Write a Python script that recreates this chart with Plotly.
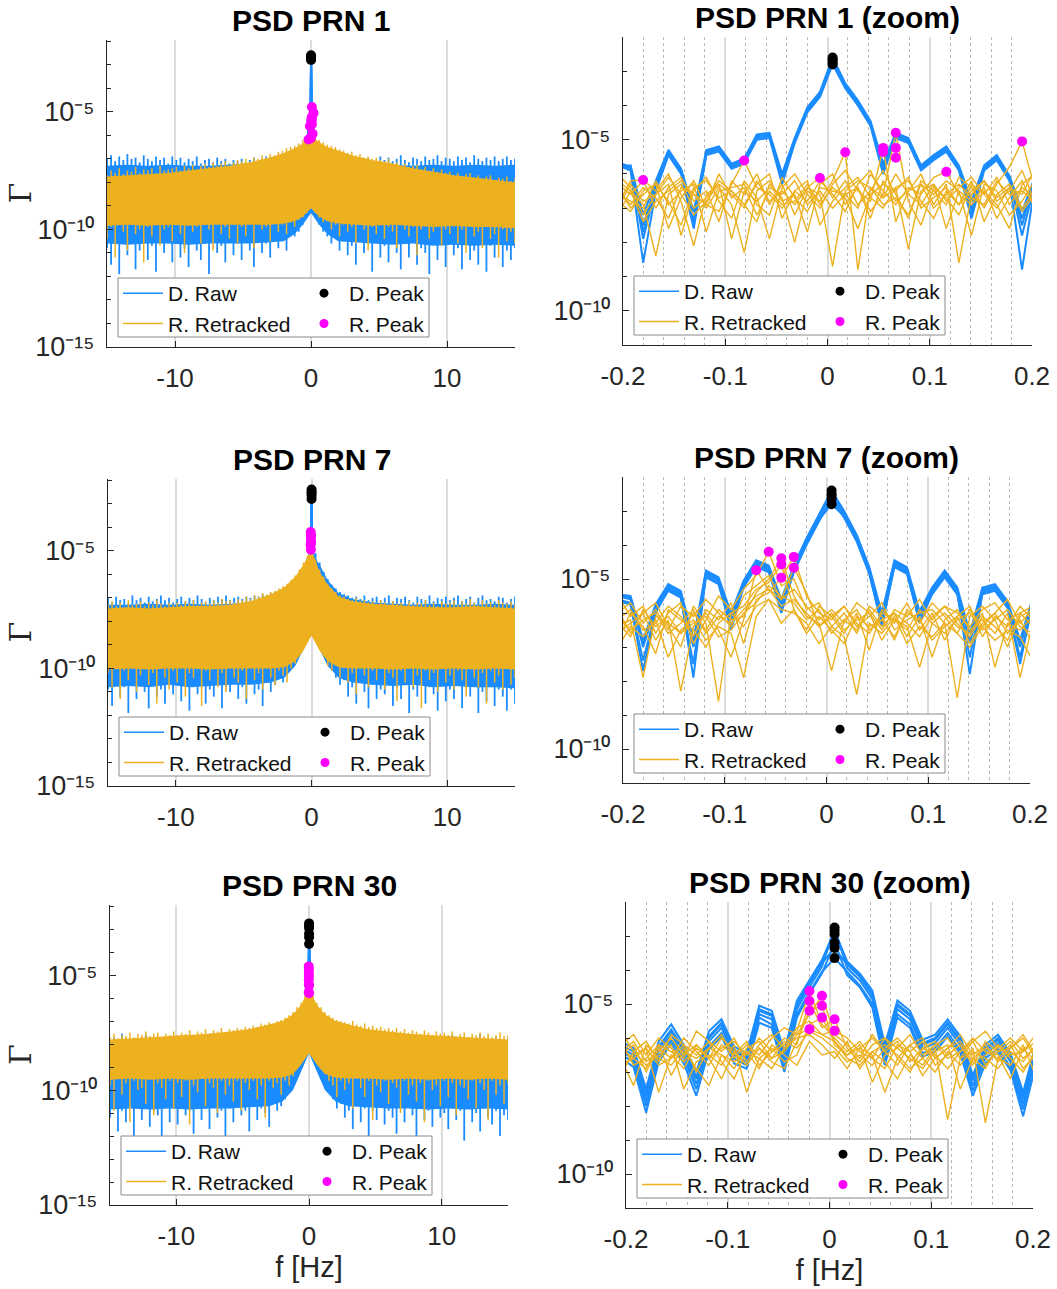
import plotly.graph_objects as go

W, H = 1057, 1289
FONT = "Liberation Sans, Arial, Helvetica, sans-serif"
BLUE = "#1a8cff"
ORANGE = "#edb120"
MAGENTA = "#ff00ff"
BLACK = "#000000"
AXIS = "#262626"

# frequency grids (Hz)
F_WIDE = [round(-15 + 0.3 * i, 2) for i in range(101)]
F_CORE = [-15, -13.5, -12, -10.5, -9, -7.5, -6, -4.5, -3, -2, -1.2, -0.6, 0,
          0.6, 1.2, 2, 3, 4.5, 6, 7.5, 9, 10.5, 12, 13.5, 15]
F_ZOOM = [round(0.005 + 0.01235 * k, 5) for k in range(-17, 17)]

# ---------------- all values are log10(PSD) ----------------
# ===== PRN 1 =====
# dense core of the wide spectra (upper / lower edge) on F_CORE
P1_BLUE_CORE_TOP = [-7.3, -7.25, -7.3, -7.25, -7.3, -7.3, -7.25, -7.2, -7.1, -6.9, -6.7, -6.5, -6.4,
                    -6.5, -6.7, -6.9, -7.1, -7.2, -7.25, -7.3, -7.25, -7.3, -7.25, -7.3, -7.25]
P1_BLUE_CORE_BOT = [-10.6, -10.65, -10.6, -10.6, -10.65, -10.6, -10.6, -10.6, -10.55, -10.5, -10.2, -9.8, -9.3,
                    -9.8, -10.2, -10.5, -10.55, -10.6, -10.65, -10.6, -10.7, -10.65, -10.7, -10.65, -10.7]
P1_ORANGE_CORE_TOP = [-7.75, -7.7, -7.65, -7.6, -7.5, -7.4, -7.3, -7.15, -6.95, -6.75, -6.55, -6.35, -6.0,
                      -6.3, -6.5, -6.65, -6.85, -7.05, -7.2, -7.4, -7.55, -7.7, -7.8, -7.9, -8.0]
P1_ORANGE_CORE_BOT = [-9.85, -9.8, -9.85, -9.8, -9.85, -9.8, -9.8, -9.8, -9.8, -9.75, -9.65, -9.45, -9.1,
                      -9.45, -9.65, -9.75, -9.8, -9.85, -9.8, -9.85, -9.9, -9.85, -9.9, -9.9, -9.95]
# spike tips of the wide spectra (upper / lower) on F_WIDE
P1_BLUE_TOP = [-7.0, -6.85, -7.1, -6.9, -7.05, -6.8, -7.0, -6.95, -7.15, -6.85, -7.0, -7.1, -6.9, -7.05, -6.95, -7.2, -6.9,
               -7.05, -6.95, -7.15, -7.0, -7.1, -6.9, -7.2, -7.05, -7.0, -7.15, -6.95, -7.1, -7.0, -7.2, -7.05, -7.1,
               -7.0, -7.15, -7.05, -6.95, -7.1, -7.0, -6.9, -7.05, -6.95, -6.85,
               -6.8, -6.75, -6.7, -6.6, -6.5, -6.4, -6.3,
               -6.2,
               -6.3, -6.4, -6.5, -6.6, -6.7, -6.75, -6.85,
               -6.9, -7.0, -6.95, -7.1, -7.0, -7.15, -6.95, -7.05, -7.1, -6.9,
               -7.05, -6.95, -7.1, -7.0, -6.85, -7.05, -7.15, -6.95, -7.0, -7.1, -6.9, -7.05, -7.0, -6.85, -7.1, -6.95,
               -7.0, -7.1, -6.9, -7.05, -6.95, -7.15, -6.85, -7.0, -7.1, -6.95, -7.05, -6.9, -7.1, -7.0, -6.9, -7.05, -7.0]
P1_BLUE_BOT = [-10.8, -11.5, -10.3, -11.9, -10.6, -11.1, -10.4, -11.7, -10.9, -10.5, -11.3, -10.7, -11.8, -10.4, -11.0, -10.6, -11.4,
               -10.5, -11.2, -10.8, -11.6, -10.4, -10.9, -11.3, -10.6, -11.9, -10.5, -11.0, -10.7, -11.4, -10.4, -11.1, -10.6,
               -11.3, -10.5, -10.9, -11.6, -10.4, -11.0, -10.6, -11.2, -10.5, -10.8,
               -10.4, -10.9, -10.3, -10.3, -10.1, -9.8, -9.5,
               -9.3,
               -9.5, -9.8, -10.1, -10.3, -10.6, -10.4, -10.9,
               -10.5, -11.1, -10.7, -11.5, -10.4, -11.0, -10.6, -11.8, -10.5, -11.2,
               -10.7, -11.4, -10.5, -11.0, -11.7, -10.6, -11.2, -10.4, -11.5, -10.8, -11.0, -11.9, -10.5, -11.3, -10.7, -11.6,
               -10.6, -11.1, -10.8, -11.7, -10.5, -11.3, -10.9, -11.5, -10.6, -11.8, -10.7, -11.2, -10.5, -11.6, -10.9, -11.3, -10.8]
P1_ORANGE_TOP = [-7.7, -7.5, -7.6, -7.4, -7.65, -7.5, -7.55, -7.35, -7.6, -7.45, -7.5, -7.4, -7.6, -7.3, -7.5, -7.45, -7.4,
                 -7.35, -7.5, -7.3, -7.4, -7.25, -7.45, -7.3, -7.2, -7.35, -7.15, -7.3, -7.2, -7.1, -7.3, -7.15, -7.05,
                 -7.1, -7.0, -7.15, -6.95, -7.0, -6.85, -6.95, -6.8, -6.85, -6.7,
                 -6.65, -6.55, -6.5, -6.45, -6.35, -6.2, -6.05,
                 -5.85,
                 -6.0, -6.2, -6.3, -6.4, -6.45, -6.5, -6.6,
                 -6.65, -6.75, -6.7, -6.85, -6.8, -6.95, -6.9, -7.0, -6.95, -7.05,
                 -7.1, -7.0, -7.2, -7.15, -7.3, -7.2, -7.35, -7.3, -7.25, -7.45, -7.35, -7.5, -7.4, -7.55, -7.45, -7.6,
                 -7.55, -7.7, -7.6, -7.75, -7.65, -7.6, -7.8, -7.7, -7.85, -7.75, -7.7, -7.9, -7.8, -7.85, -7.75, -7.95, -7.85]
P1_ORANGE_BOT = [-10.4, -9.9, -11.2, -9.8, -10.1, -10.9, -9.7, -10.2, -10.0, -11.4, -9.9, -10.3, -9.8, -10.7, -10.0, -9.9, -10.5,
                 -9.8, -10.2, -11.0, -9.7, -10.1, -9.9, -10.6, -9.8, -10.0, -10.9, -9.7, -10.2, -9.9, -10.4, -9.8, -10.6,
                 -9.9, -10.3, -9.7, -10.8, -9.8, -10.0, -9.9, -10.5, -9.7, -10.1,
                 -9.8, -10.2, -9.7, -9.9, -9.6, -9.5, -9.3,
                 -9.1,
                 -9.3, -9.5, -9.7, -9.6, -10.0, -9.8, -10.3,
                 -9.8, -10.1, -9.9, -10.6, -9.8, -10.0, -10.9, -9.9, -10.2, -9.8,
                 -10.4, -9.9, -10.1, -10.8, -9.8, -10.0, -10.3, -9.9, -11.1, -10.0, -9.8, -10.4, -10.1, -9.9, -10.7, -10.0,
                 -10.2, -9.9, -10.6, -10.0, -11.0, -9.9, -10.3, -10.1, -10.8, -9.9, -10.4, -10.2, -11.2, -10.0, -10.5, -10.1, -10.6]
# zoomed spectra: one list per track on F_ZOOM
P1_D_RAW = [
    [-5.75, -5.8, -7.5, -6.3, -5.35, -5.9, -7.3, -5.35, -5.25, -5.75, -5.6, -4.9, -4.85, -6.1, -5.0, -4.1, -3.65, -2.75, -3.4, -3.9, -4.5, -5.8, -4.85, -5.0, -5.8, -5.5, -5.25, -5.8, -7.0, -5.8, -5.5, -6.1, -7.3, -6.2],
    [-5.7, -5.85, -7.9, -6.4, -5.4, -5.95, -7.5, -5.4, -5.3, -5.8, -5.65, -4.95, -4.9, -6.2, -5.05, -4.15, -3.7, -2.7, -3.45, -3.95, -4.55, -5.9, -4.9, -5.05, -5.85, -5.55, -5.3, -5.85, -7.2, -5.85, -5.55, -6.15, -7.8, -6.3],
    [-5.8, -5.75, -7.2, -6.2, -5.3, -5.85, -7.1, -5.3, -5.2, -5.7, -5.55, -4.85, -4.8, -6.0, -4.95, -4.05, -3.6, -2.6, -3.35, -3.85, -4.45, -5.7, -4.8, -4.95, -5.75, -5.45, -5.2, -5.75, -6.8, -5.75, -5.45, -6.05, -7.1, -6.1],
    [-5.75, -5.9, -8.6, -6.5, -5.45, -6.0, -7.6, -5.45, -5.35, -5.85, -5.7, -5.0, -4.95, -6.3, -5.1, -4.2, -3.75, -2.8, -3.5, -4.0, -4.6, -6.0, -4.95, -5.1, -5.9, -5.6, -5.35, -5.9, -7.3, -5.9, -5.6, -6.2, -8.8, -6.35],
    [-5.65, -5.8, -7.7, -6.25, -5.35, -5.9, -7.4, -5.35, -5.25, -5.75, -5.6, -4.9, -4.85, -6.15, -5.0, -4.1, -3.65, -2.65, -3.4, -3.9, -4.5, -5.85, -4.85, -5.0, -5.8, -5.5, -5.25, -5.8, -7.1, -5.8, -5.5, -6.1, -7.5, -6.2],
]
P1_R_RET = [
    [-6.3, -6.6, -6.2, -7.0, -6.4, -6.1, -6.8, -6.5, -7.4, -6.2, -6.6, -6.0, -6.9, -6.3, -7.2, -6.4, -6.1, -6.7, -6.2, -6.9, -6.5, -5.9, -6.6, -7.3, -6.2, -6.5, -6.9, -6.1, -6.4, -7.0, -6.3, -5.8, -5.05, -6.4],
    [-6.8, -7.1, -6.5, -6.3, -7.6, -6.7, -6.2, -7.0, -6.4, -6.9, -8.3, -6.5, -6.2, -6.8, -6.6, -7.7, -6.3, -6.0, -6.9, -6.4, -7.1, -6.6, -4.8, -6.8, -7.5, -6.4, -6.7, -7.2, -6.3, -6.6, -6.1, -6.9, -6.4, -6.7],
    [-6.0, -6.4, -7.2, -6.6, -6.3, -7.8, -6.5, -6.1, -6.8, -7.3, -6.2, -6.7, -7.9, -6.4, -6.0, -6.6, -7.0, -6.3, -5.9, -6.5, -6.8, -5.24, -7.4, -6.5, -6.0, -6.9, -6.3, -8.6, -6.6, -6.2, -6.8, -6.5, -5.9, -6.8],
    [-7.2, -6.5, -6.9, -8.4, -6.6, -6.3, -7.0, -6.7, -6.2, -6.5, -6.9, -7.4, -6.3, -6.7, -8.0, -6.5, -6.8, -6.2, -5.37, -8.8, -6.4, -6.7, -6.0, -6.6, -6.9, -6.3, -7.6, -6.5, -6.8, -6.4, -7.3, -6.7, -6.2, -7.0],
    [-6.5, -6.9, -6.4, -6.7, -7.3, -6.4, -6.6, -6.9, -7.1, -6.3, -5.61, -6.4, -6.6, -7.0, -6.5, -6.2, -7.5, -6.8, -6.4, -6.1, -6.7, -7.0, -6.4, -6.2, -6.8, -7.3, -6.5, -6.9, -6.2, -7.4, -6.6, -6.3, -7.0, -6.5],
    [-6.9, -6.2, -6.18, -6.5, -6.0, -6.8, -8.1, -6.6, -6.3, -6.6, -7.0, -6.2, -6.8, -6.5, -6.9, -6.4, -6.6, -8.7, -6.5, -6.2, -6.4, -6.9, -6.7, -7.2, -6.3, -6.6, -6.2, -6.5, -7.8, -6.3, -6.5, -7.2, -6.8, -6.2],
    [-6.6, -6.8, -7.0, -6.2, -6.9, -6.5, -6.3, -7.7, -6.5, -6.4, -6.3, -6.9, -7.2, -6.1, -6.7, -7.1, -6.4, -6.5, -6.6, -7.0, -6.0, -6.5, -6.9, -6.4, -6.6, -6.1, -5.94, -6.6, -6.9, -6.5, -6.9, -7.6, -6.3, -6.0],
    [-6.4, -7.0, -6.6, -6.3, -6.8, -7.5, -6.4, -6.2, -6.7, -6.5, -6.9, -6.3, -6.0, -7.3, -6.5, -6.8, -6.2, -6.6, -7.1, -6.3, -5.9, -6.7, -6.4, -8.2, -6.5, -6.3, -6.8, -6.4, -6.1, -6.6, -7.0, -6.4, -6.6, -5.9],
    [-7.0, -6.3, -6.8, -6.6, -6.1, -6.6, -7.2, -6.8, -6.3, -7.9, -6.5, -6.8, -6.4, -6.6, -6.2, -6.9, -6.5, -7.0, -6.6, -6.4, -7.3, -6.2, -6.8, -6.5, -6.3, -7.0, -6.6, -6.3, -6.7, -6.9, -6.2, -6.6, -6.5, -6.8],
    [-6.2, -6.5, -7.4, -6.8, -6.5, -6.2, -6.6, -6.9, -6.0, -6.7, -6.4, -7.2, -6.5, -6.9, -6.8, -6.3, -6.9, -6.4, -6.7, -7.6, -6.6, -6.3, -6.5, -6.1, -7.0, -6.7, -6.4, -6.9, -6.5, -6.2, -6.7, -6.4, -7.1, -6.6],
]
P1_D_PEAK_F = [0.005, 0.005, 0.005, 0.005, 0.005]
P1_D_PEAK_V = [-2.6, -2.65, -2.7, -2.75, -2.8]
P1_R_PEAK_F = [-0.1803, -0.0815, -0.0074, 0.0174, 0.0544, 0.0544, 0.0668, 0.0668, 0.0668, 0.1162, 0.1903]
P1_R_PEAK_V = [-6.18, -5.61, -6.12, -5.37, -5.24, -5.36, -4.8, -5.24, -5.53, -5.94, -5.05]

# ===== PRN 7 =====
P7_BLUE_CORE_TOP = [-7.3, -7.3, -7.25, -7.3, -7.25, -7.3, -7.25, -7.2, -6.95, -6.65, -6.3, -5.8, -5.1,
                    -5.6, -6.25, -6.8, -7.05, -7.2, -7.25, -7.3, -7.25, -7.3, -7.3, -7.25, -7.3]
P7_BLUE_CORE_BOT = [-10.8, -10.75, -10.8, -10.7, -10.8, -10.75, -10.7, -10.7, -10.6, -10.4, -9.9, -9.2, -8.5,
                    -9.2, -9.9, -10.4, -10.6, -10.7, -10.75, -10.7, -10.8, -10.75, -10.8, -10.8, -10.85]
P7_ORANGE_CORE_TOP = [-7.45, -7.4, -7.45, -7.4, -7.35, -7.35, -7.3, -7.15, -6.85, -6.55, -6.1, -5.6, -4.95,
                      -5.9, -6.45, -6.95, -7.15, -7.25, -7.3, -7.35, -7.4, -7.4, -7.35, -7.4, -7.45]
P7_ORANGE_CORE_BOT = [-10.05, -10.0, -10.05, -10.0, -10.0, -10.05, -10.0, -10.0, -10.0, -9.95, -9.7, -9.25, -8.6,
                      -9.25, -9.7, -9.95, -10.0, -10.0, -10.05, -10.0, -10.05, -10.0, -10.05, -10.0, -10.05]
P7_BLUE_TOP = [-7.0, -7.2, -6.95, -7.1, -7.05, -7.25, -6.9, -7.1, -7.0, -7.2, -6.95, -7.15, -7.05, -6.9, -7.1, -7.0, -7.2,
               -7.05, -6.95, -7.15, -7.0, -7.1, -6.9, -7.05, -7.2, -7.0, -7.1, -6.95, -7.05, -6.9, -7.1, -7.0, -6.95,
               -7.05, -6.95, -7.0, -6.9, -6.95, -6.85, -6.9, -6.8, -6.75, -6.8,
               -6.7, -6.55, -6.4, -6.2, -6.0, -5.7, -5.3,
               -5.0,
               -5.1, -5.5, -5.9, -6.2, -6.45, -6.6, -6.75,
               -6.85, -6.9, -7.0, -6.95, -7.05, -6.9, -7.1, -7.0, -6.95, -7.1,
               -7.0, -6.9, -7.15, -7.0, -7.05, -6.95, -7.1, -7.2, -6.95, -7.05, -7.1, -6.9, -7.15, -7.0, -7.05, -6.95,
               -7.1, -7.0, -6.9, -7.15, -7.05, -6.95, -7.2, -7.0, -6.9, -7.1, -7.05, -7.15, -6.95, -7.0, -7.2, -7.05, -6.95]
P7_BLUE_BOT = [-10.9, -11.6, -10.5, -11.2, -10.8, -11.9, -10.6, -11.3, -10.7, -11.0, -11.7, -10.5, -11.2, -10.9, -11.5, -10.6, -11.1,
               -10.7, -11.4, -10.6, -11.8, -10.8, -11.1, -10.5, -11.5, -10.9, -11.2, -10.6, -11.7, -10.8, -11.0, -10.5, -11.3,
               -10.8, -11.5, -10.6, -11.1, -10.9, -11.6, -10.5, -11.0, -10.7, -10.4,
               -10.6, -10.2, -10.0, -9.7, -9.4, -9.0, -8.7,
               -8.5,
               -8.7, -9.0, -9.4, -9.8, -10.1, -10.4, -10.7,
               -10.5, -11.2, -10.8, -11.5, -10.6, -11.0, -11.7, -10.7, -11.3, -10.9,
               -11.1, -10.6, -11.6, -10.8, -11.3, -10.7, -11.9, -10.9, -11.2, -10.6, -11.5, -10.8, -11.1, -11.8, -10.7, -11.4,
               -10.9, -11.3, -10.6, -11.7, -10.8, -11.2, -10.7, -11.9, -11.0, -11.4, -10.8, -11.6, -10.9, -11.2, -11.8, -10.9, -11.5]
P7_ORANGE_TOP = [-7.3, -7.15, -7.35, -7.2, -7.4, -7.1, -7.3, -7.25, -7.15, -7.35, -7.2, -7.3, -7.1, -7.25, -7.35, -7.2, -7.3,
                 -7.2, -7.3, -7.15, -7.25, -7.1, -7.3, -7.2, -7.15, -7.25, -7.1, -7.2, -7.05, -7.15, -7.1, -7.2, -7.05,
                 -7.1, -6.95, -7.05, -6.9, -6.95, -6.8, -6.85, -6.75, -6.7, -6.6,
                 -6.5, -6.4, -6.25, -6.05, -5.8, -5.5, -5.2,
                 -4.85,
                 -5.4, -5.8, -6.1, -6.4, -6.6, -6.75, -6.9,
                 -6.95, -7.05, -7.1, -7.0, -7.15, -7.1, -7.2, -7.15, -7.25, -7.1,
                 -7.2, -7.3, -7.15, -7.25, -7.2, -7.35, -7.15, -7.3, -7.2, -7.25, -7.1, -7.3, -7.2, -7.35, -7.15, -7.25,
                 -7.2, -7.1, -7.3, -7.15, -7.25, -7.05, -7.2, -7.3, -7.1, -7.25, -7.15, -7.3, -7.1, -7.2, -7.25, -7.15, -7.3]
P7_ORANGE_BOT = [-10.2, -10.8, -9.9, -11.3, -10.1, -10.5, -10.0, -11.0, -10.3, -9.9, -10.7, -10.2, -11.5, -10.0, -10.4, -10.9, -10.1,
                 -10.6, -10.0, -11.2, -10.2, -10.4, -9.9, -11.6, -10.1, -10.5, -10.0, -10.8, -10.2, -11.0, -10.0, -10.4, -10.6,
                 -10.1, -11.3, -10.0, -10.5, -10.2, -10.9, -10.0, -10.4, -10.7, -10.1,
                 -10.3, -10.6, -10.0, -9.8, -9.5, -9.1, -8.8,
                 -8.6,
                 -8.8, -9.2, -9.5, -9.9, -10.1, -9.8, -10.4,
                 -10.0, -10.6, -10.2, -11.1, -10.0, -10.3, -10.8, -10.1, -10.5, -10.0,
                 -10.9, -10.2, -10.4, -11.4, -10.1, -10.6, -10.0, -10.8, -10.3, -11.7, -10.1, -10.5, -10.2, -11.0, -10.0, -10.6,
                 -10.3, -10.9, -10.1, -10.5, -11.2, -10.0, -10.4, -10.8, -10.2, -11.5, -10.1, -10.6, -10.3, -10.9, -10.0, -10.7, -10.4]
P7_D_RAW = [
    [-5.5, -5.55, -7.0, -5.85, -5.25, -5.45, -7.0, -4.85, -5.05, -6.2, -5.15, -4.55, -4.7, -5.75, -4.7, -3.9, -3.2, -2.55, -3.1, -3.8, -4.75, -6.2, -4.55, -4.75, -6.1, -5.35, -4.85, -5.35, -6.9, -5.35, -5.25, -5.75, -7.0, -5.65],
    [-5.45, -5.5, -6.8, -5.75, -5.15, -5.35, -6.8, -4.75, -4.95, -6.0, -5.05, -4.45, -4.6, -5.6, -4.6, -3.8, -3.1, -2.4, -3.0, -3.7, -4.65, -6.0, -4.45, -4.65, -5.95, -5.25, -4.75, -5.25, -6.6, -5.25, -5.15, -5.65, -6.8, -5.55],
    [-5.6, -5.7, -7.4, -5.95, -5.35, -5.55, -7.5, -4.95, -5.15, -6.4, -5.25, -4.65, -4.8, -5.9, -4.8, -4.0, -3.3, -2.65, -3.2, -3.9, -4.85, -6.35, -4.65, -4.85, -6.25, -5.45, -4.95, -5.45, -7.3, -5.45, -5.35, -5.85, -7.3, -5.75],
    [-5.5, -5.6, -6.9, -5.8, -5.2, -5.4, -6.95, -4.8, -5.0, -6.15, -5.1, -4.5, -4.65, -5.7, -4.65, -3.85, -3.15, -2.5, -3.05, -3.75, -4.7, -6.15, -4.5, -4.7, -6.05, -5.3, -4.8, -5.3, -6.85, -5.3, -5.2, -5.7, -6.95, -5.6],
    [-5.65, -5.75, -7.7, -6.0, -5.3, -5.5, -7.9, -4.9, -5.1, -6.5, -5.2, -4.6, -4.75, -6.0, -4.75, -3.95, -3.25, -2.8, -3.15, -3.85, -4.8, -6.4, -4.6, -4.8, -6.3, -5.4, -4.9, -5.4, -7.8, -5.4, -5.3, -5.8, -7.5, -5.7],
]
P7_R_RET = [
    [-6.0, -5.7, -6.3, -5.9, -6.5, -5.8, -6.1, -5.6, -6.0, -6.4, -5.5, -5.2, -4.9, -5.6, -5.3, -5.8, -6.2, -5.9, -6.3, -5.7, -6.0, -6.5, -5.9, -6.1, -5.6, -6.2, -5.8, -6.0, -6.4, -5.9, -5.7, -6.2, -6.0, -5.8],
    [-5.5, -6.1, -5.8, -6.6, -6.0, -5.7, -6.9, -6.2, -5.5, -5.9, -5.3, -4.9, -4.2, -5.2, -5.0, -5.9, -5.7, -6.4, -6.0, -6.6, -5.8, -6.1, -6.8, -5.9, -6.3, -5.7, -6.1, -6.6, -5.9, -6.4, -6.0, -5.6, -6.3, -5.9],
    [-6.4, -6.2, -7.9, -6.1, -6.3, -6.6, -6.0, -6.5, -5.9, -6.2, -6.1, -5.4, -5.0, -4.39, -5.5, -6.1, -6.3, -7.7, -6.2, -5.9, -6.5, -6.2, -6.0, -6.7, -6.1, -7.3, -6.2, -5.9, -6.5, -6.2, -6.6, -6.0, -7.9, -6.3],
    [-5.9, -6.6, -6.0, -5.7, -6.4, -7.0, -5.8, -6.3, -8.6, -6.0, -5.8, -5.3, -5.1, -4.57, -5.9, -6.5, -5.8, -6.1, -6.6, -6.0, -7.1, -5.9, -6.3, -5.7, -6.5, -6.0, -6.8, -6.1, -5.8, -6.7, -6.1, -6.4, -5.8, -6.2],
    [-6.2, -5.9, -6.5, -6.3, -5.8, -6.1, -6.7, -5.9, -6.2, -5.7, -6.9, -5.6, -5.4, -4.96, -4.35, -5.5, -6.0, -6.2, -5.8, -6.4, -6.1, -5.7, -6.5, -6.2, -6.0, -5.9, -6.3, -8.5, -6.1, -5.8, -6.2, -7.0, -6.1, -5.9],
    [-6.6, -6.3, -6.0, -6.8, -6.2, -8.3, -6.4, -6.0, -6.5, -7.3, -6.2, -4.74, -5.3, -5.6, -4.67, -5.4, -6.4, -6.0, -6.5, -6.2, -6.0, -6.8, -6.2, -6.4, -7.6, -6.3, -6.0, -6.4, -6.6, -6.0, -7.6, -6.3, -6.5, -6.1],
    [-7.0, -6.4, -6.7, -6.2, -7.3, -6.5, -6.2, -6.8, -6.4, -6.6, -7.9, -6.1, -5.6, -5.9, -6.0, -6.3, -6.9, -6.4, -6.7, -8.4, -6.3, -6.6, -6.1, -6.9, -6.4, -6.7, -6.3, -6.6, -7.0, -6.4, -6.8, -6.5, -6.7, -7.4],
    [-6.1, -6.5, -6.2, -6.0, -6.6, -6.3, -5.9, -6.6, -6.1, -6.3, -5.9, -5.5, -5.3, -5.8, -5.6, -6.0, -6.4, -6.1, -5.8, -6.3, -6.6, -6.0, -6.2, -6.5, -5.9, -6.3, -6.6, -6.2, -6.0, -6.5, -6.2, -5.9, -6.4, -6.6],
    [-6.8, -6.0, -6.4, -7.2, -5.9, -6.2, -6.5, -7.0, -6.3, -6.0, -6.4, -5.8, -5.6, -6.3, -5.9, -6.6, -6.1, -6.5, -6.9, -6.1, -6.4, -6.2, -6.7, -6.0, -6.2, -6.8, -6.4, -6.1, -6.9, -6.3, -6.0, -6.6, -6.2, -6.9],
    [-6.3, -6.7, -5.9, -6.4, -6.1, -6.6, -6.3, -6.1, -6.7, -6.5, -6.0, -5.7, -5.2, -5.5, -5.7, -6.2, -5.9, -6.6, -6.2, -6.5, -5.9, -6.4, -6.0, -6.3, -6.7, -6.1, -5.8, -6.3, -6.7, -6.1, -6.4, -6.8, -6.0, -6.4],
]
P7_D_PEAK_F = [0.005, 0.005, 0.005, 0.005, 0.005]
P7_D_PEAK_V = [-2.4, -2.5, -2.55, -2.65, -2.8]
P7_R_PEAK_F = [-0.0691, -0.0568, -0.0444, -0.0444, -0.0444, -0.0321, -0.0321]
P7_R_PEAK_V = [-4.74, -4.2, -4.39, -4.57, -4.96, -4.35, -4.67]

# ===== PRN 30 =====
P30_BLUE_CORE_TOP = [-8.1, -8.1, -8.05, -8.1, -8.0, -8.0, -7.95, -7.85, -7.7, -7.45, -7.1, -6.6, -6.1,
                     -6.6, -7.1, -7.45, -7.7, -7.85, -7.95, -8.0, -8.05, -8.1, -8.1, -8.1, -8.1]
P30_BLUE_CORE_BOT = [-10.85, -10.8, -10.85, -10.8, -10.85, -10.8, -10.8, -10.75, -10.7, -10.5, -10.0, -9.2, -8.4,
                     -9.2, -10.0, -10.5, -10.7, -10.75, -10.8, -10.8, -10.85, -10.8, -10.85, -10.8, -10.85]
P30_ORANGE_CORE_TOP = [-7.8, -7.75, -7.7, -7.65, -7.6, -7.55, -7.45, -7.35, -7.15, -7.0, -6.7, -6.3, -5.6,
                       -6.3, -6.7, -7.0, -7.15, -7.35, -7.45, -7.55, -7.6, -7.65, -7.7, -7.75, -7.8]
P30_ORANGE_CORE_BOT = [-9.55, -9.5, -9.55, -9.5, -9.55, -9.5, -9.5, -9.5, -9.5, -9.45, -9.3, -8.9, -8.4,
                       -8.9, -9.3, -9.45, -9.5, -9.5, -9.55, -9.5, -9.55, -9.5, -9.55, -9.5, -9.55]
P30_BLUE_TOP = [-7.9, -7.7, -8.0, -7.55, -7.9, -7.8, -8.05, -7.75, -7.9, -7.6, -7.95, -7.85, -7.7, -8.0, -7.8, -7.65, -7.9,
                -7.8, -7.95, -7.6, -7.85, -7.75, -8.0, -7.7, -7.85, -7.55, -7.9, -7.75, -7.8, -7.6, -7.85, -7.7, -7.75,
                -7.6, -7.7, -7.55, -7.65, -7.5, -7.6, -7.45, -7.5, -7.4, -7.35,
                -7.3, -7.2, -7.1, -6.95, -6.75, -6.5, -6.2,
                -5.9,
                -6.2, -6.5, -6.75, -6.95, -7.1, -7.2, -7.3,
                -7.35, -7.4, -7.45, -7.35, -7.5, -7.55, -7.45, -7.6, -7.5, -7.65,
                -7.6, -7.7, -7.55, -7.75, -7.65, -7.8, -7.6, -7.85, -7.7, -7.75, -7.9, -7.65, -7.8, -7.95, -7.7, -7.85,
                -7.75, -7.9, -7.6, -7.95, -7.8, -7.7, -8.0, -7.75, -7.85, -7.55, -7.9, -7.8, -8.0, -7.7, -7.85, -7.95, -7.8]
P30_BLUE_BOT = [-11.2, -10.6, -11.8, -10.9, -11.4, -10.7, -12.1, -10.8, -11.3, -10.6, -11.6, -10.9, -11.1, -12.0, -10.7, -11.4, -10.8,
                -11.5, -10.7, -11.1, -10.9, -11.9, -10.6, -11.3, -10.8, -11.7, -10.7, -11.2, -10.9, -12.2, -10.8, -11.4, -10.6,
                -11.1, -10.9, -11.8, -10.7, -11.3, -10.8, -11.0, -11.6, -10.6, -10.9,
                -10.7, -10.4, -10.1, -9.7, -9.3, -8.9, -8.6,
                -8.4,
                -8.6, -8.9, -9.3, -9.7, -10.1, -10.4, -10.8,
                -10.6, -11.2, -10.9, -11.7, -10.7, -11.4, -10.8, -12.0, -10.9, -11.3,
                -10.7, -11.5, -10.9, -11.2, -11.9, -10.8, -11.4, -10.7, -11.1, -12.1, -10.8, -11.3, -10.9, -11.6, -10.7, -11.2,
                -11.0, -11.7, -10.8, -11.3, -10.9, -12.2, -10.7, -11.4, -11.0, -11.8, -10.8, -11.2, -11.5, -10.9, -12.0, -11.1, -11.3]
P30_ORANGE_TOP = [-7.7, -7.55, -7.75, -7.6, -7.65, -7.5, -7.7, -7.55, -7.6, -7.45, -7.65, -7.55, -7.5, -7.7, -7.55, -7.6, -7.45,
                  -7.6, -7.5, -7.55, -7.4, -7.6, -7.45, -7.5, -7.35, -7.55, -7.4, -7.45, -7.3, -7.5, -7.35, -7.4, -7.3,
                  -7.35, -7.25, -7.3, -7.2, -7.25, -7.1, -7.15, -7.05, -7.1, -7.0,
                  -6.95, -6.85, -6.75, -6.6, -6.4, -6.2, -5.9,
                  -5.5,
                  -5.9, -6.2, -6.4, -6.6, -6.75, -6.85, -6.95,
                  -7.0, -7.05, -7.1, -7.0, -7.15, -7.2, -7.1, -7.25, -7.2, -7.3,
                  -7.25, -7.35, -7.3, -7.4, -7.3, -7.45, -7.35, -7.5, -7.4, -7.45, -7.55, -7.4, -7.5, -7.6, -7.45, -7.55,
                  -7.5, -7.6, -7.45, -7.65, -7.55, -7.5, -7.7, -7.55, -7.6, -7.5, -7.65, -7.55, -7.7, -7.6, -7.5, -7.65, -7.6]
P30_ORANGE_BOT = [-9.8, -10.9, -9.5, -10.2, -9.7, -11.4, -9.6, -10.0, -9.9, -10.6, -9.5, -11.1, -9.7, -9.9, -10.4, -9.6, -10.8,
                  -9.7, -10.3, -9.6, -11.5, -9.8, -10.1, -9.5, -10.7, -9.7, -9.9, -11.0, -9.6, -10.2, -9.8, -10.5, -9.6,
                  -10.9, -9.7, -10.0, -9.6, -10.4, -9.8, -11.2, -9.6, -9.9, -9.7,
                  -10.2, -9.6, -9.8, -9.4, -9.1, -8.8, -8.6,
                  -8.4,
                  -8.6, -8.8, -9.1, -9.3, -9.6, -9.8, -10.3,
                  -9.6, -10.0, -9.7, -10.8, -9.5, -9.9, -10.3, -9.6, -11.3, -9.8,
                  -10.1, -9.6, -10.6, -9.7, -9.9, -11.0, -9.6, -10.2, -9.8, -10.5, -9.7, -11.4, -9.6, -10.0, -9.8, -10.7,
                  -9.6, -10.3, -9.7, -11.1, -9.8, -9.9, -10.4, -9.6, -10.8, -9.7, -10.0, -11.3, -9.6, -10.2, -9.8, -10.6, -9.7]
P30_D_RAW = [
    [-6.4, -6.6, -7.85, -6.4, -5.9, -6.5, -7.35, -6.1, -5.7, -6.5, -6.7, -5.3, -5.45, -6.7, -5.15, -4.5, -3.9, -2.75, -3.95, -4.3, -4.85, -6.5, -5.15, -5.45, -6.3, -6.15, -5.7, -6.2, -7.4, -6.5, -6.15, -6.7, -7.95, -6.5],
    [-6.1, -6.3, -7.5, -6.1, -5.6, -6.2, -7.0, -5.8, -5.45, -6.25, -6.45, -5.05, -5.2, -6.4, -4.9, -4.3, -3.7, -2.85, -3.75, -4.1, -4.6, -6.2, -4.9, -5.2, -6.05, -5.9, -5.45, -5.95, -7.1, -6.2, -5.9, -6.45, -7.6, -6.2],
    [-6.6, -6.85, -8.2, -6.7, -6.15, -6.75, -7.7, -6.35, -5.95, -6.75, -6.9, -5.55, -5.7, -7.0, -5.4, -4.7, -4.1, -3.2, -4.15, -4.5, -5.1, -6.8, -5.4, -5.7, -6.55, -6.4, -5.95, -6.45, -7.7, -6.75, -6.4, -6.95, -8.3, -6.8],
    [-6.3, -6.5, -7.7, -6.3, -5.8, -6.4, -7.2, -6.0, -5.6, -6.4, -6.6, -5.2, -5.35, -6.6, -5.05, -4.4, -3.8, -3.35, -3.85, -4.2, -4.75, -6.4, -5.05, -5.35, -6.2, -6.05, -5.6, -6.1, -7.25, -6.4, -6.05, -6.6, -7.8, -6.4],
    [-6.5, -6.7, -8.0, -6.55, -6.05, -6.6, -7.5, -6.25, -5.85, -6.6, -6.8, -5.4, -5.6, -6.85, -5.3, -4.65, -4.05, -3.65, -4.05, -4.45, -5.0, -6.65, -5.3, -5.6, -6.45, -6.3, -5.85, -6.35, -7.55, -6.6, -6.3, -6.85, -8.1, -6.6],
    [-6.2, -6.4, -7.6, -6.25, -5.75, -6.3, -7.15, -5.95, -5.55, -6.35, -6.55, -5.15, -5.3, -6.5, -5.0, -4.35, -3.75, -2.95, -3.8, -4.15, -4.7, -6.3, -5.0, -5.3, -6.15, -6.0, -5.55, -6.05, -7.2, -6.3, -6.0, -6.55, -7.7, -6.3],
]
P30_R_RET = [
    [-6.2, -5.9, -6.5, -6.0, -6.3, -6.6, -5.8, -6.1, -6.4, -6.0, -6.7, -6.2, -5.9, -6.3, -5.8, -4.62, -5.6, -6.0, -6.4, -6.1, -6.6, -6.0, -6.3, -5.9, -6.5, -6.2, -6.0, -6.6, -6.1, -5.8, -6.3, -6.0, -6.4, -5.9],
    [-5.8, -6.4, -6.1, -6.7, -5.9, -6.2, -7.0, -6.3, -5.9, -6.6, -6.2, -6.5, -6.0, -5.7, -5.9, -5.3, -4.76, -5.9, -6.2, -6.6, -5.9, -6.4, -6.8, -6.2, -6.0, -6.6, -6.3, -5.9, -6.5, -6.2, -6.7, -6.3, -5.9, -6.5],
    [-6.5, -6.2, -7.0, -6.3, -6.6, -6.0, -6.4, -6.8, -6.2, -6.5, -6.1, -6.8, -6.4, -6.0, -6.2, -4.91, -5.7, -5.45, -6.3, -6.7, -6.2, -6.0, -6.6, -7.0, -6.3, -6.5, -6.9, -6.4, -6.1, -6.8, -6.4, -6.1, -6.6, -6.3],
    [-6.8, -6.6, -6.3, -7.6, -6.5, -6.9, -6.2, -6.6, -7.2, -6.4, -6.8, -6.3, -6.7, -6.9, -6.1, -5.2, -5.05, -6.2, -6.5, -6.2, -7.3, -6.5, -6.3, -6.6, -6.9, -6.4, -6.2, -7.5, -6.6, -6.3, -6.5, -7.2, -6.3, -6.7],
    [-6.1, -6.8, -6.6, -6.2, -7.1, -6.4, -6.6, -6.3, -6.5, -6.9, -6.3, -6.1, -6.6, -6.4, -5.9, -5.74, -5.9, -5.79, -6.0, -6.4, -6.6, -6.9, -6.2, -6.4, -6.1, -6.8, -6.5, -6.2, -6.7, -6.5, -6.2, -6.6, -7.0, -6.4],
    [-7.1, -6.4, -6.8, -6.5, -6.2, -7.5, -6.7, -6.5, -6.8, -6.2, -7.6, -6.6, -6.3, -6.7, -6.5, -5.6, -5.4, -6.1, -6.6, -6.8, -6.4, -6.7, -7.2, -6.5, -6.8, -6.3, -8.4, -6.6, -6.4, -6.6, -6.9, -6.4, -6.7, -6.2],
    [-6.6, -7.4, -6.2, -6.6, -6.8, -6.3, -6.9, -7.4, -6.5, -6.7, -6.4, -6.9, -6.2, -6.5, -6.8, -6.1, -6.5, -6.4, -6.9, -6.3, -6.5, -7.6, -6.6, -6.2, -6.6, -7.0, -6.4, -6.8, -6.3, -8.5, -6.6, -6.8, -6.2, -7.1],
    [-6.4, -6.1, -6.7, -6.4, -6.0, -6.5, -6.2, -6.6, -6.3, -6.1, -6.5, -6.0, -6.4, -6.2, -5.7, -5.5, -5.9, -6.1, -6.5, -6.3, -6.0, -6.4, -6.1, -6.7, -6.3, -6.1, -6.5, -6.2, -6.8, -6.1, -6.4, -6.3, -6.0, -6.6],
    [-6.9, -6.5, -6.3, -6.8, -6.6, -6.2, -6.5, -6.1, -6.7, -7.2, -6.4, -6.6, -6.9, -6.3, -6.0, -5.9, -6.2, -6.6, -6.1, -6.9, -6.4, -6.2, -6.5, -6.9, -6.6, -6.2, -6.6, -6.4, -6.0, -6.4, -6.6, -6.2, -6.9, -6.5],
    [-6.3, -6.6, -6.9, -6.2, -6.4, -6.7, -6.3, -6.6, -6.0, -6.4, -6.8, -6.3, -6.6, -6.1, -6.3, -5.8, -6.0, -6.3, -6.7, -6.5, -6.8, -6.3, -6.0, -6.4, -7.1, -6.6, -6.3, -6.1, -6.6, -6.9, -6.2, -6.5, -6.4, -6.1],
]
P30_D_PEAK_F = [0.005, 0.005, 0.005, 0.005, 0.005, 0.005]
P30_D_PEAK_V = [-2.75, -2.85, -2.95, -3.2, -3.35, -3.65]
P30_R_PEAK_F = [-0.0197, -0.0197, -0.0197, -0.0197, -0.0074, -0.0074, -0.0074, 0.005, 0.005]
P30_R_PEAK_V = [-4.62, -4.91, -5.2, -5.74, -4.76, -5.05, -5.4, -5.45, -5.79]

TITLES = ["PSD PRN 1", "PSD PRN 1 (zoom)", "PSD PRN 7", "PSD PRN 7 (zoom)", "PSD PRN 30", "PSD PRN 30 (zoom)"]
WIDE_TICKS = [-10, 0, 10]
WIDE_TICKTEXT = ["-10", "0", "10"]
ZOOM_TICKS = [-0.2, -0.1, 0, 0.1, 0.2]
ZOOM_TICKTEXT = ["-0.2", "-0.1", "0", "0.1", "0.2"]
ZOOM_MINOR = [-0.18, -0.16, -0.14, -0.12, -0.08, -0.06, -0.04, -0.02, 0.02, 0.04, 0.06, 0.08,
              0.12, 0.14, 0.16, 0.18]
Y_LABEL = {-15: "10\u207b\u00b9\u2075", -10: "10\u207b\u00b9\u2070", -5: "10\u207b\u2075"}

for lst in [P1_BLUE_TOP, P1_BLUE_BOT, P1_ORANGE_TOP, P1_ORANGE_BOT, P7_BLUE_TOP, P7_BLUE_BOT, P7_ORANGE_TOP,
            P7_ORANGE_BOT, P30_BLUE_TOP, P30_BLUE_BOT, P30_ORANGE_TOP, P30_ORANGE_BOT]:
    assert len(lst) == len(F_WIDE), len(lst)
for lst in [P1_BLUE_CORE_TOP, P1_BLUE_CORE_BOT, P1_ORANGE_CORE_TOP, P1_ORANGE_CORE_BOT,
            P7_BLUE_CORE_TOP, P7_BLUE_CORE_BOT, P7_ORANGE_CORE_TOP, P7_ORANGE_CORE_BOT,
            P30_BLUE_CORE_TOP, P30_BLUE_CORE_BOT, P30_ORANGE_CORE_TOP, P30_ORANGE_CORE_BOT]:
    assert len(lst) == len(F_CORE), len(lst)
for group in [P1_D_RAW, P1_R_RET, P7_D_RAW, P7_R_RET, P30_D_RAW, P30_R_RET]:
    for lst in group:
        assert len(lst) == len(F_ZOOM), len(lst)


def pw(v):
    return [10.0 ** x for x in v]


def spikes(f, hi, lo):
    xs, ys = [], []
    for fi, h, l in zip(f, hi, lo):
        xs += [fi, fi, None]
        ys += [10.0 ** h, 10.0 ** l, None]
    return xs, ys


PRN = [
    dict(bct=P1_BLUE_CORE_TOP, bcb=P1_BLUE_CORE_BOT, oct=P1_ORANGE_CORE_TOP, ocb=P1_ORANGE_CORE_BOT,
         bt=P1_BLUE_TOP, bb=P1_BLUE_BOT, ot=P1_ORANGE_TOP, ob=P1_ORANGE_BOT, draw=P1_D_RAW, rret=P1_R_RET,
         dpf=P1_D_PEAK_F, dpv=P1_D_PEAK_V, rpf=P1_R_PEAK_F, rpv=P1_R_PEAK_V),
    dict(bct=P7_BLUE_CORE_TOP, bcb=P7_BLUE_CORE_BOT, oct=P7_ORANGE_CORE_TOP, ocb=P7_ORANGE_CORE_BOT,
         bt=P7_BLUE_TOP, bb=P7_BLUE_BOT, ot=P7_ORANGE_TOP, ob=P7_ORANGE_BOT, draw=P7_D_RAW, rret=P7_R_RET,
         dpf=P7_D_PEAK_F, dpv=P7_D_PEAK_V, rpf=P7_R_PEAK_F, rpv=P7_R_PEAK_V),
    dict(bct=P30_BLUE_CORE_TOP, bcb=P30_BLUE_CORE_BOT, oct=P30_ORANGE_CORE_TOP, ocb=P30_ORANGE_CORE_BOT,
         bt=P30_BLUE_TOP, bb=P30_BLUE_BOT, ot=P30_ORANGE_TOP, ob=P30_ORANGE_BOT, draw=P30_D_RAW, rret=P30_R_RET,
         dpf=P30_D_PEAK_F, dpv=P30_D_PEAK_V, rpf=P30_R_PEAK_F, rpv=P30_R_PEAK_V),
]

# axes boxes in pixels: (left, right, top, bottom)
BOXES = [(107, 515, 40, 347), (623, 1032, 37, 345),
         (108, 515, 479, 786), (623, 1030, 477, 783),
         (110, 508, 905, 1205), (626, 1033, 902, 1208)]

fig = go.Figure()
layout = dict(width=W, height=H, margin=dict(l=0, r=0, t=0, b=0, autoexpand=False), paper_bgcolor="white",
              plot_bgcolor="white", font=dict(family=FONT, color=AXIS), shapes=[], annotations=[],
              hovermode=False)


def band(xa, ya, f, top, bot, color):
    return go.Scatter(x=f + f[::-1], y=pw(top) + pw(bot)[::-1], fill="toself", fillcolor=color,
                      mode="lines", line=dict(color=color, width=0), xaxis=xa, yaxis=ya,
                      showlegend=False, hoverinfo="skip")


for n in range(1, 7):
    row = (n - 1) // 2
    zoom = (n % 2 == 0)
    d = PRN[row]
    xa = "x" if n == 1 else f"x{n}"
    ya = "y" if n == 1 else f"y{n}"
    L, R, T, B = BOXES[n - 1]
    xd = [L / W, R / W]
    yd = [1 - B / H, 1 - T / H]

    if not zoom:
        fig.add_trace(band(xa, ya, F_CORE, d["bct"], d["bcb"], BLUE))
        sx, sy = spikes(F_WIDE, d["bt"], d["bb"])
        fig.add_trace(go.Scatter(x=sx, y=sy, mode="lines", line=dict(color=BLUE, width=1.8),
                                 xaxis=xa, yaxis=ya, showlegend=False, hoverinfo="skip"))
    for v in d["draw"]:
        fig.add_trace(go.Scatter(x=F_ZOOM, y=pw(v), mode="lines", line=dict(color=BLUE, width=2),
                                 xaxis=xa, yaxis=ya, showlegend=False, hoverinfo="skip"))
    if not zoom:
        fig.add_trace(band(xa, ya, F_CORE, d["oct"], d["ocb"], ORANGE))
        sx, sy = spikes(F_WIDE, d["ot"], d["ob"])
        fig.add_trace(go.Scatter(x=sx, y=sy, mode="lines", line=dict(color=ORANGE, width=1.5),
                                 xaxis=xa, yaxis=ya, showlegend=False, hoverinfo="skip"))
    for v in d["rret"]:
        fig.add_trace(go.Scatter(x=F_ZOOM, y=pw(v), mode="lines", line=dict(color=ORANGE, width=1.4),
                                 xaxis=xa, yaxis=ya, showlegend=False, hoverinfo="skip"))
    fig.add_trace(go.Scatter(x=d["dpf"], y=pw(d["dpv"]), mode="markers",
                             marker=dict(color=BLACK, size=10), xaxis=xa, yaxis=ya,
                             showlegend=False, hoverinfo="skip"))
    fig.add_trace(go.Scatter(x=d["rpf"], y=pw(d["rpv"]), mode="markers",
                             marker=dict(color=MAGENTA, size=10), xaxis=xa, yaxis=ya,
                             showlegend=False, hoverinfo="skip"))

    # legends: two columns -> two legends per panel
    la = "legend" if n == 1 else f"legend{2 * n - 1}"
    lb = f"legend{2 * n}"
    for name, mode, color, leg in [("D. Raw", "lines", BLUE, la), ("R. Retracked", "lines", ORANGE, la),
                                   ("D. Peak", "markers", BLACK, lb), ("R. Peak", "markers", MAGENTA, lb)]:
        fig.add_trace(go.Scatter(x=[None], y=[None], mode=mode, name=name,
                                 line=dict(color=color, width=1.5), marker=dict(color=color, size=9),
                                 xaxis=xa, yaxis=ya, legend=leg, showlegend=True, hoverinfo="skip"))
    bx0, bx1 = L + 11, L + 322
    by0, by1 = B - 69, B - 10
    layout["shapes"].append(dict(type="rect", xref="paper", yref="paper", x0=bx0 / W, x1=bx1 / W,
                                 y0=1 - by1 / H, y1=1 - by0 / H, fillcolor="white",
                                 line=dict(color="#8a8a8a", width=1), layer="above"))
    legstyle = dict(xanchor="left", yanchor="top", bgcolor="rgba(0,0,0,0)", borderwidth=0,
                    font=dict(size=21, family=FONT, color="#111111"), tracegroupgap=0,
                    orientation="v", itemclick=False, itemdoubleclick=False, itemwidth=40)
    layout[la] = dict(x=bx0 / W, y=1 - (by0 - 5) / H, **legstyle)
    layout[lb] = dict(x=(bx0 + 181) / W, y=1 - (by0 - 5) / H, **legstyle)

    # axes
    xkey = "xaxis" if n == 1 else f"xaxis{n}"
    ykey = "yaxis" if n == 1 else f"yaxis{n}"
    xax = dict(domain=xd, anchor=ya, showline=True, linecolor=AXIS, linewidth=1.3, ticks="inside",
               ticklen=6, tickwidth=1.2, tickcolor=AXIS, tickfont=dict(size=26, family=FONT, color=AXIS),
               showgrid=True, gridcolor="#dcdcdc", gridwidth=1.5, zeroline=False, ticklabelstandoff=8,
               mirror=False, fixedrange=True, automargin=False)
    if zoom:
        xax.update(range=[-0.2, 0.2], tickmode="array", tickvals=ZOOM_TICKS, ticktext=ZOOM_TICKTEXT,
                   minor=dict(tickmode="array", tickvals=ZOOM_MINOR, showgrid=True, gridcolor="#b8b8b8",
                              griddash="dot", gridwidth=1, ticks=""))
        ylo, yhi, lab = -11, -2, [-10, -5]
        yrange = [-11, -2]
    else:
        xax.update(range=[-15, 15], tickmode="array", tickvals=WIDE_TICKS, ticktext=WIDE_TICKTEXT)
        ylo, yhi, lab = -15, -2, [-15, -10, -5]
        yrange = [-15, -1.95]
    if row == 2:
        xax["title"] = dict(text="f [Hz]", font=dict(size=29, family=FONT, color=AXIS), standoff=4)
    layout[xkey] = xax
    layout[ykey] = dict(domain=yd, anchor=xa, type="log", range=yrange, showline=True, linecolor=AXIS,
                        linewidth=1.3, ticks="inside", ticklen=6, tickwidth=1.2, tickcolor=AXIS,
                        tickmode="array", tickvals=[10.0 ** e for e in lab],
                        ticktext=[Y_LABEL[e] for e in lab],
                        minor=dict(tickmode="array",
                                   tickvals=[10.0 ** e for e in range(ylo, yhi + 1) if e not in lab],
                                   ticks="inside", ticklen=4, tickcolor=AXIS, tickwidth=1, showgrid=False),
                        tickfont=dict(size=27, family=FONT, color=AXIS), showgrid=False, zeroline=False,
                        ticklabelstandoff=6, mirror=False, fixedrange=True, automargin=False)

    # panel title
    layout["annotations"].append(dict(text=f"<b>{TITLES[n - 1]}</b>", xref="paper", yref="paper",
                                      x=(L + R) / 2 / W, y=1 - T / H, xanchor="center", yanchor="bottom",
                                      yshift=1, showarrow=False,
                                      font=dict(size=30, family=FONT, color="#000000")))
    if not zoom:
        layout["annotations"].append(dict(text="Γ", xref="paper", yref="paper", x=20 / W,
                                          y=1 - (T + B) / 2 / H, xanchor="center", yanchor="middle",
                                          textangle=-90, showarrow=False,
                                          font=dict(size=30, family="DejaVu Serif, serif", color=AXIS)))

fig.update_layout(**layout)
fig.write_html("out.html")
